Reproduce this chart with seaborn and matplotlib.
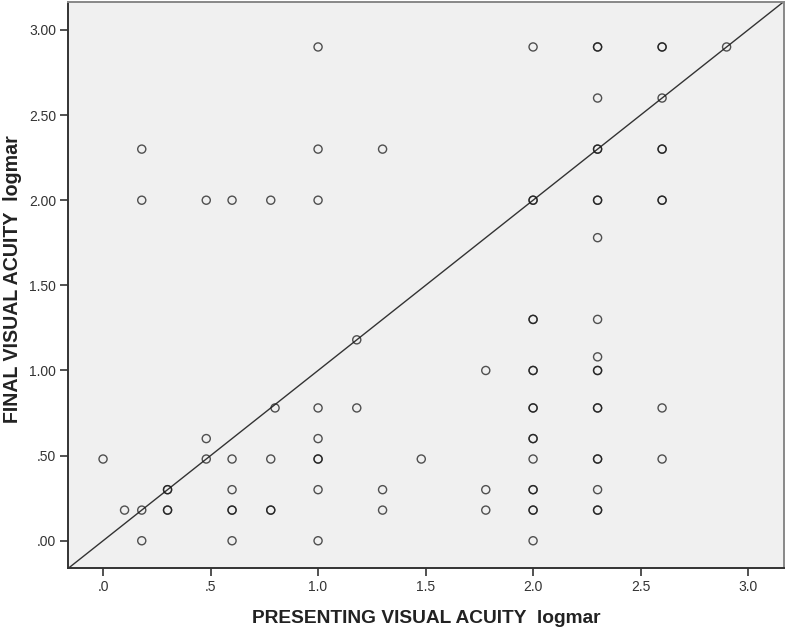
import matplotlib
matplotlib.use("Agg")
import matplotlib.pyplot as plt
import seaborn as sns
import pandas as pd
from matplotlib.ticker import FixedLocator, FixedFormatter

# Presenting (x) and final (y) visual acuity, logMAR; duplicates listed repeatedly
presenting = [
    0.00,
    0.10,
    0.18, 0.18, 0.18, 0.18,
    0.30, 0.30, 0.30, 0.30,
    0.48, 0.48, 0.48,
    0.60, 0.60, 0.60, 0.60, 0.60, 0.60,
    0.78, 0.78, 0.78, 0.78,
    0.80,
    1.00, 1.00, 1.00, 1.00, 1.00, 1.00, 1.00, 1.00, 1.00,
    1.18, 1.18,
    1.30, 1.30, 1.30,
    1.48,
    1.78, 1.78, 1.78,
    2.00, 2.00, 2.00, 2.00, 2.00, 2.00, 2.00, 2.00, 2.00, 2.00, 2.00, 2.00, 2.00, 2.00, 2.00, 2.00, 2.00,
    2.30, 2.30, 2.30, 2.30, 2.30, 2.30, 2.30, 2.30, 2.30, 2.30, 2.30, 2.30, 2.30, 2.30, 2.30, 2.30, 2.30, 2.30, 2.30,
    2.60, 2.60, 2.60, 2.60, 2.60, 2.60, 2.60, 2.60, 2.60,
    2.90,
]
final = [
    0.48,
    0.18,
    0.00, 0.18, 2.00, 2.30,
    0.30, 0.30, 0.18, 0.18,
    0.48, 0.60, 2.00,
    0.00, 0.18, 0.18, 0.30, 0.48, 2.00,
    0.18, 0.18, 0.48, 2.00,
    0.78,
    0.00, 0.30, 0.48, 0.48, 0.60, 0.78, 2.00, 2.30, 2.90,
    0.78, 1.18,
    0.18, 0.30, 2.30,
    0.48,
    0.18, 0.30, 1.00,
    0.00, 0.18, 0.18, 0.30, 0.30, 0.48, 0.60, 0.60, 0.78, 0.78, 1.00, 1.00, 1.30, 1.30, 2.00, 2.00, 2.90,
    0.18, 0.18, 0.30, 0.48, 0.48, 0.78, 0.78, 1.00, 1.00, 1.08, 1.30, 1.78, 2.00, 2.00, 2.30, 2.30, 2.60, 2.90, 2.90,
    0.48, 0.78, 2.00, 2.00, 2.30, 2.30, 2.60, 2.90, 2.90,
    2.90,
]

x_ticks = [0.0, 0.5, 1.0, 1.5, 2.0, 2.5, 3.0]
x_tick_labels = [".0", ".5", "1.0", "1.5", "2.0", "2.5", "3.0"]
y_ticks = [0.0, 0.5, 1.0, 1.5, 2.0, 2.5, 3.0]
y_tick_labels = [".00", ".50", "1.00", "1.50", "2.00", "2.50", "3.00"]

x_label = "PRESENTING VISUAL ACUITY  logmar"
y_label = "FINAL VISUAL ACUITY  logmar"

df = pd.DataFrame({"presenting": presenting, "final": final})

sns.set_style("white")
plt.rcParams["font.family"] = ["Liberation Sans", "DejaVu Sans"]

fig = plt.figure(figsize=(7.87, 6.30), dpi=100)
ax = fig.add_axes([68 / 787, 62 / 630, (784 - 68) / 787, (568 - 2) / 630])
ax.set_facecolor("#f0f0f0")

sns.scatterplot(data=df, x="presenting", y="final", ax=ax,
                marker="o", s=34, facecolor="none", edgecolor="#1a1a1a",
                linewidth=1.0, alpha=0.75, zorder=3)

ax.axline((0, 0), slope=1, color="#333333", linewidth=1.0, zorder=2)

ax.set_xlim(-0.163, 3.167)
ax.set_ylim(-0.160, 3.164)

ax.xaxis.set_major_locator(FixedLocator(x_ticks))
ax.xaxis.set_major_formatter(FixedFormatter(x_tick_labels))
ax.yaxis.set_major_locator(FixedLocator(y_ticks))
ax.yaxis.set_major_formatter(FixedFormatter(y_tick_labels))

ax.tick_params(axis="both", which="major", direction="out", length=5.5,
               width=1.2, color="#333333", labelsize=10, labelcolor="#333333", pad=3,
               bottom=True, left=True)

ax.set_xlabel(x_label, fontsize=13.8, fontweight="bold", color="#222222", labelpad=12)
ax.set_ylabel(y_label, fontsize=14.1, fontweight="bold", color="#222222", labelpad=5)
ax.yaxis.label.set_y(0.51)

for side in ["left", "bottom"]:
    ax.spines[side].set_color("#333333")
    ax.spines[side].set_linewidth(1.4)
for side in ["top", "right"]:
    ax.spines[side].set_color("#888888")
    ax.spines[side].set_linewidth(1.4)

fig.savefig("out.png", dpi=100, facecolor="white")
